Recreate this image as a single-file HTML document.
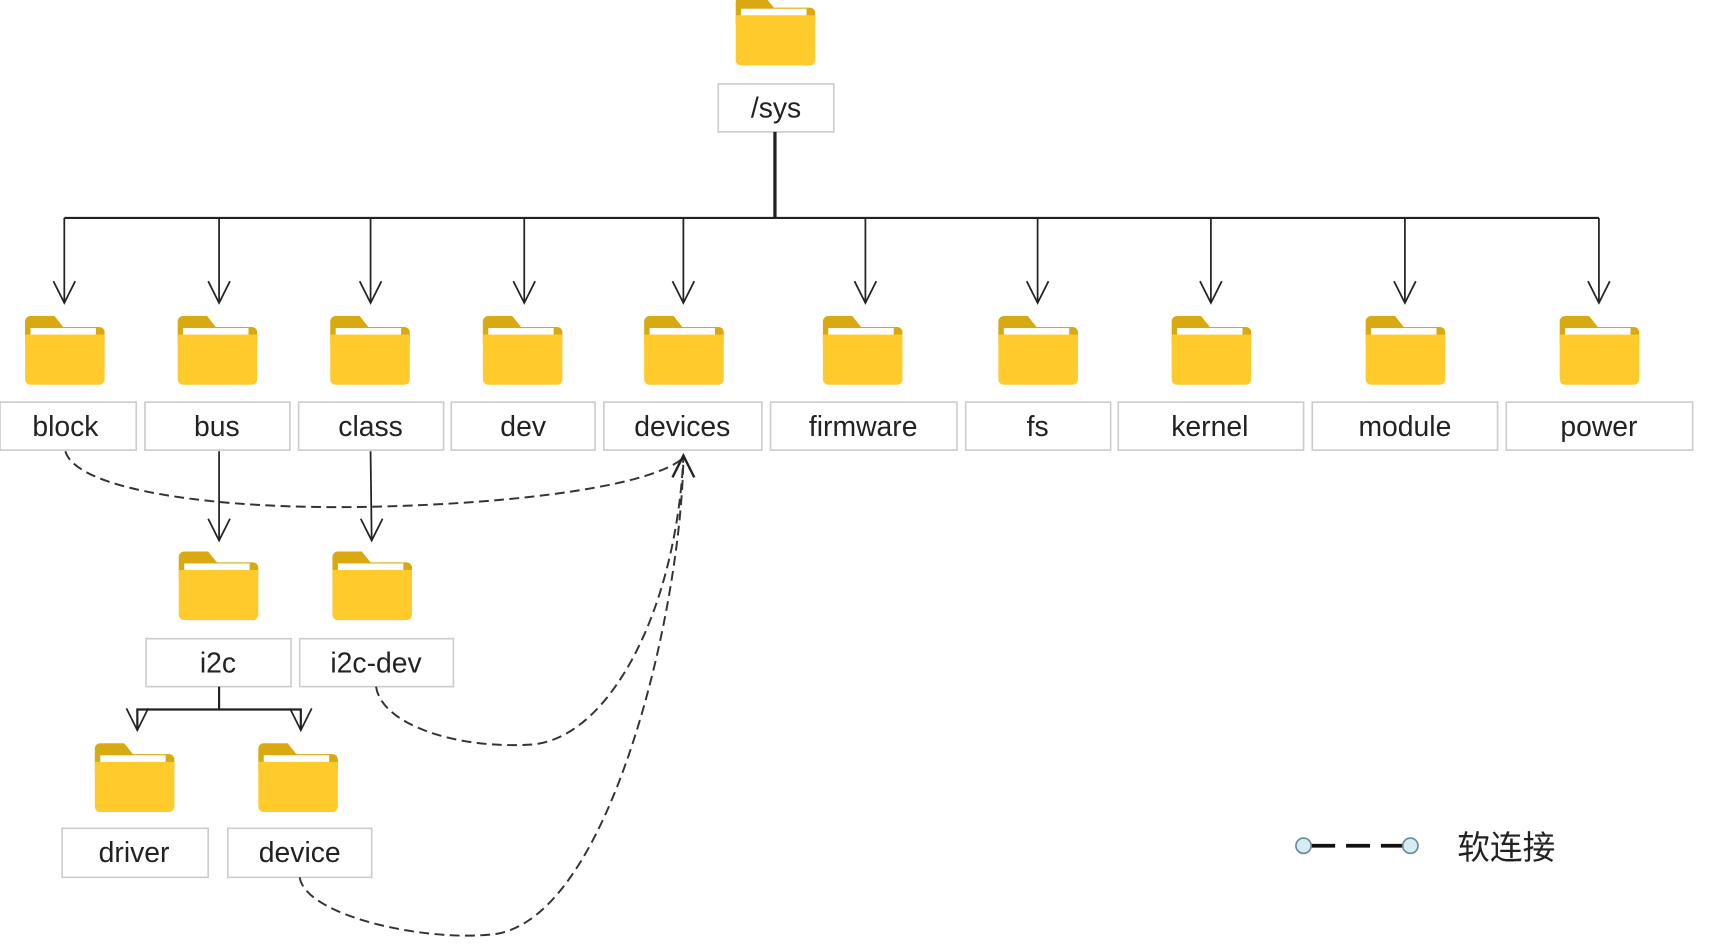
<!DOCTYPE html>
<html><head><meta charset="utf-8"><style>
html,body{margin:0;padding:0;background:#fff;}
svg{display:block;}
text{font-family:"Liberation Sans","Noto Sans CJK SC",sans-serif;fill:#222;}
</style></head><body>
<svg width="1709" height="946" viewBox="0 0 1568 868" preserveAspectRatio="none" xmlns="http://www.w3.org/2000/svg">
<defs>
<g id="f">
<path d="M0,6 a5,5 0 0 1 5,-5 h22 l8,10 h33 a5,5 0 0 1 5,5 v10 h-73z" fill="#D9A912"/>
<rect x="5" y="12" width="60" height="8" fill="#fff"/>
<path d="M0,18 h73 v41 a5,5 0 0 1 -5,5 h-63 a5,5 0 0 1 -5,-5z" fill="#FFCA2C"/>
</g>
<path id="ah" d="M-10,-20 L0,0 L10,-20" fill="none" stroke="#222" stroke-width="1.6"/>
</defs>
<use href="#f" x="675" y="-4"/>
<g>
<use href="#f" x="23" y="289"/><use href="#f" x="163" y="289"/><use href="#f" x="303" y="289"/>
<use href="#f" x="443" y="289"/><use href="#f" x="591" y="289"/><use href="#f" x="755" y="289"/>
<use href="#f" x="916" y="289"/><use href="#f" x="1075" y="289"/><use href="#f" x="1253" y="289"/>
<use href="#f" x="1431" y="289"/>
<use href="#f" x="164" y="505"/><use href="#f" x="305" y="505"/>
<use href="#f" x="87" y="681"/><use href="#f" x="237" y="681"/>
</g>
<g fill="#fff" stroke="#ccc" stroke-width="1.5">
<rect x="659" y="77" width="106" height="44"/>
<rect x="0" y="369" width="125" height="44"/><rect x="133" y="369" width="133" height="44"/>
<rect x="274" y="369" width="133" height="44"/><rect x="414" y="369" width="132" height="44"/>
<rect x="554" y="369" width="145" height="44"/><rect x="707" y="369" width="171" height="44"/>
<rect x="886" y="369" width="133" height="44"/><rect x="1026" y="369" width="170" height="44"/>
<rect x="1204" y="369" width="170" height="44"/><rect x="1382" y="369" width="171" height="44"/>
<rect x="134" y="586" width="133" height="44"/><rect x="275" y="586" width="141" height="44"/>
<rect x="57" y="760" width="134" height="45"/><rect x="209" y="760" width="132" height="45"/>
</g>
<g font-size="26" text-anchor="middle">
<text x="712" y="108">/sys</text>
<text x="60" y="400">block</text><text x="199" y="400">bus</text><text x="340" y="400">class</text>
<text x="480" y="400">dev</text><text x="626" y="400">devices</text><text x="792" y="400">firmware</text>
<text x="952" y="400">fs</text><text x="1110" y="400">kernel</text><text x="1289" y="400">module</text>
<text x="1467" y="400">power</text>
<text x="200" y="617">i2c</text><text x="345" y="617">i2c-dev</text>
<text x="123" y="791">driver</text><text x="275" y="791">device</text>
</g>
<g stroke="#222" fill="none" stroke-width="1.6">
<line x1="711" y1="121" x2="711" y2="200" stroke-width="3"/>
<line x1="59" y1="200" x2="1467" y2="200" stroke-width="2"/>
<path d="M59,200V278 M201,200V278 M340,200V278 M481,200V278 M627,200V278 M794,200V278 M952,200V278 M1111,200V278 M1289,200V278 M1467,200V278"/>
<line x1="201" y1="414" x2="201" y2="496"/>
<line x1="340" y1="414" x2="341" y2="496"/>
<line x1="201" y1="630" x2="201" y2="651" stroke-width="2"/>
<path d="M126,670 V651 H276 V670" stroke-width="2"/>
</g>
<g>
<use href="#ah" x="59" y="278"/><use href="#ah" x="201" y="278"/><use href="#ah" x="340" y="278"/>
<use href="#ah" x="481" y="278"/><use href="#ah" x="627" y="278"/><use href="#ah" x="794" y="278"/>
<use href="#ah" x="952" y="278"/><use href="#ah" x="1111" y="278"/><use href="#ah" x="1289" y="278"/>
<use href="#ah" x="1467" y="278"/>
<use href="#ah" x="201" y="496"/><use href="#ah" x="341" y="496"/>
<use href="#ah" x="126" y="670"/><use href="#ah" x="276" y="670"/>
</g>
<g stroke="#333" fill="none" stroke-width="1.8" stroke-dasharray="9,5">
<path d="M60,414 C70,450 200,468 340,465 C480,462 600,445 627,420"/>
<path d="M345,630 C350,665 420,688 490,683 C560,675 620,560 627,420"/>
<path d="M275,805 C280,840 390,865 455,857 C560,840 625,560 627,420"/>
</g>
<path d="M617,438 L627,418 L637,438" fill="none" stroke="#222" stroke-width="2.2"/>
<line x1="1203" y1="776" x2="1287" y2="776" stroke="#111" stroke-width="3.5" stroke-dasharray="22,10"/>
<circle cx="1196" cy="776" r="7" fill="#d4ecf2" stroke="#6a8a96" stroke-width="1.5"/>
<circle cx="1294" cy="776" r="7" fill="#d4ecf2" stroke="#6a8a96" stroke-width="1.5"/>
<text x="1337" y="788" font-size="30">软连接</text>
</svg>
</body></html>
